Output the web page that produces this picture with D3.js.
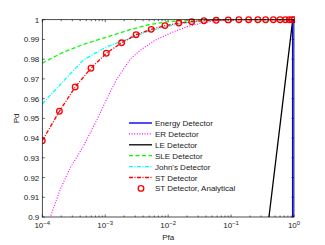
<!DOCTYPE html>
<html>
<head>
<meta charset="utf-8">
<script src="https://cdn.jsdelivr.net/npm/d3@7"></script>
<style>
	body { margin: 0; background: #fff; }
	svg text { font-family: "Liberation Sans", Arial, sans-serif; font-size: 8px; fill: #222; }
</style>
</head>
<body>
<svg id="chart" width="325" height="245"></svg>
<script>
const pfaEnergy = [0.955, 0.955, 1];
const pdEnergy = [0.85, 1, 1];

const pfaER = [1.2e-4, 1.38e-4, 1.91e-4, 2.76e-4, 4.45e-4, 7.36e-4, 1.1e-3, 1.53e-3, 2.5e-3, 3.6e-3, 6.3e-3, 0.0122, 0.0203, 0.0326, 0.063, 0.1, 1];
const pdER = [0.893, 0.901, 0.9137, 0.9248, 0.9356, 0.9492, 0.961, 0.970, 0.980, 0.9845, 0.9897, 0.9939, 0.9965, 0.9982, 0.9997, 1, 1];

const pfaLE = [0.4, 0.955, 1];
const pdLE = [0.9, 1, 1];

const pfaSLE = [1e-4, 2e-4, 3.1e-4, 5e-4, 1.06e-3, 2.5e-3, 5e-3, 1e-2, 2e-2, 0.05, 1];
const pdSLE = [0.978, 0.983, 0.9855, 0.988, 0.9912, 0.995, 0.9975, 0.999, 0.9997, 1, 1];

const pfaJohn = [1e-4, 1.9e-4, 4.5e-4, 1.06e-3, 2.5e-3, 4.6e-3, 9e-3, 0.02, 0.05, 0.1, 1];
const pdJohn = [0.9573, 0.9669, 0.9796, 0.9863, 0.9906, 0.9939, 0.9965, 0.9985, 0.9997, 1, 1];

const pfaST = [1e-4, 1.87e-4, 3.33e-4, 5.93e-4, 1.04e-3, 1.82e-3, 3.09e-3, 5.37e-3, 8.9e-3, 0.0148, 0.0237, 0.037, 0.058, 0.09, 0.133, 0.19, 0.267, 0.354, 0.47, 0.6, 0.73, 0.84, 0.93, 1];
const pdST = [0.9387, 0.9536, 0.9659, 0.9754, 0.983, 0.9883, 0.9924, 0.9951, 0.997, 0.9983, 0.999, 0.9995, 0.9997, 0.9999, 1, 1, 1, 1, 1, 1, 1, 1, 1, 1];

const xTickExps = [-4, -3, -2, -1, 0];
const yTicks = [0.9, 0.91, 0.92, 0.93, 0.94, 0.95, 0.96, 0.97, 0.98, 0.99, 1];

const legendNames = ["Energy Detector", "ER Detector", "LE Detector", "SLE Detector", "John's Detector", "ST Detector", "ST Detector, Analytical"];

const margin = { top: 19.7, right: 31, bottom: 28, left: 42.3 };
const width = 325, height = 245;

const svg = d3.select("#chart");

const x = d3.scaleLog()
	.domain([1e-4, 1])
	.range([margin.left, width - margin.right]);

const y = d3.scaleLinear()
	.domain([0.9, 1])
	.range([height - margin.bottom, margin.top]);

const [x0, x1] = x.range();
const [y0, y1] = y.range();

svg.append("defs").append("clipPath")
	.attr("id", "plot-clip")
	.append("rect")
	.attr("x", x0).attr("y", y1 - 4)
	.attr("width", x1 - x0 + 1).attr("height", y0 - y1 + 4);

// ticks, inward, on all four sides
const tickLen = 2.5;
const tickGroup = svg.append("g").attr("stroke", "#000").attr("stroke-width", 0.6);

const minorTicks = [];
for (let e = -4; e < 0; e++) {
	for (let k = 2; k <= 9; k++) minorTicks.push(k * Math.pow(10, e));
}
minorTicks.forEach(v => {
	tickGroup.append("line").attr("x1", x(v)).attr("x2", x(v)).attr("y1", y0).attr("y2", y0 - 1.5);
	tickGroup.append("line").attr("x1", x(v)).attr("x2", x(v)).attr("y1", y1).attr("y2", y1 + 1.5);
});
xTickExps.forEach(e => {
	const v = Math.pow(10, e);
	tickGroup.append("line").attr("x1", x(v)).attr("x2", x(v)).attr("y1", y0).attr("y2", y0 - tickLen);
	tickGroup.append("line").attr("x1", x(v)).attr("x2", x(v)).attr("y1", y1).attr("y2", y1 + tickLen);
});
yTicks.forEach(v => {
	tickGroup.append("line").attr("x1", x0).attr("x2", x0 + tickLen).attr("y1", y(v)).attr("y2", y(v));
	tickGroup.append("line").attr("x1", x1).attr("x2", x1 - tickLen).attr("y1", y(v)).attr("y2", y(v));
});

// tick labels
xTickExps.forEach(e => {
	const t = svg.append("text")
		.attr("x", x(Math.pow(10, e)))
		.attr("y", y0 + 11)
		.attr("text-anchor", "middle");
	t.append("tspan").text("10");
	t.append("tspan").attr("dy", -3.5).attr("font-size", "6px").text(e === 0 ? "0" : "\u2212" + Math.abs(e));
});

yTicks.forEach(v => {
	svg.append("text")
		.attr("x", x0 - 3)
		.attr("y", y(v) + 3)
		.attr("text-anchor", "end")
		.text(v === 1 ? "1" : d3.format(".2~f")(v));
});

// axis labels
svg.append("text")
	.attr("x", (x0 + x1) / 2)
	.attr("y", 240)
	.attr("text-anchor", "middle")
	.text("Pfa");

svg.append("text")
	.attr("transform", `translate(19, ${(y0 + y1) / 2}) rotate(-90)`)
	.attr("text-anchor", "middle")
	.text("Pd");

// curves
const lineGen = d3.line()
	.x(d => x(d[0]))
	.y(d => y(d[1]));

const series = [
	{ pfa: pfaER, pd: pdER, color: "#ff00ff", dash: "1,1.6", w: 1.1 },
	{ pfa: pfaSLE, pd: pdSLE, color: "#00ff00", dash: "4,2.5", w: 1.3 },
	{ pfa: pfaJohn, pd: pdJohn, color: "#00ffff", dash: "4,1.5,1,1.5", w: 1.3 },
	{ pfa: pfaST, pd: pdST, color: "#ff0000", dash: "4,1.5,1,1.5", w: 1.3 },
	{ pfa: pfaLE, pd: pdLE, color: "#000000", dash: null, w: 1.3 },
	{ pfa: pfaEnergy, pd: pdEnergy, color: "#0000ff", dash: null, w: 1.6 }
];

const lineGroup = svg.append("g").attr("clip-path", "url(#plot-clip)");
series.forEach(s => {
	lineGroup.append("path")
		.datum(d3.zip(s.pfa, s.pd))
		.attr("fill", "none")
		.attr("stroke", s.color)
		.attr("stroke-width", s.w)
		.attr("stroke-dasharray", s.dash)
		.attr("d", lineGen);
});

lineGroup.selectAll("circle.st")
	.data(d3.zip(pfaST, pdST))
	.join("circle")
	.attr("class", "st")
	.attr("cx", d => x(d[0]))
	.attr("cy", d => y(d[1]))
	.attr("r", 2.8)
	.attr("fill", "none")
	.attr("stroke", "#ff0000")
	.attr("stroke-width", 1.3);

// box
svg.append("rect")
	.attr("x", x0).attr("y", y1)
	.attr("width", x1 - x0).attr("height", y0 - y1)
	.attr("fill", "none")
	.attr("stroke", "#000")
	.attr("stroke-width", 0.7);

// legend
const legendStyles = [
	{ color: "#0000ff", dash: null, w: 1.4 },
	{ color: "#ff00ff", dash: "1,1.6", w: 1.1 },
	{ color: "#000000", dash: null, w: 1.3 },
	{ color: "#00ff00", dash: "4,2.5", w: 1.3 },
	{ color: "#00ffff", dash: "4,1.5,1,1.5", w: 1.3 },
	{ color: "#ff0000", dash: "4,1.5,1,1.5", w: 1.3 },
	{ color: "#ff0000", dash: null, w: 0, marker: true }
];

const legend = svg.append("g").attr("class", "legend");
legendNames.forEach((name, i) => {
	const ly = 123 + i * 10.9;
	const st = legendStyles[i];
	if (st.marker) {
		legend.append("circle")
			.attr("cx", 141).attr("cy", ly)
			.attr("r", 2.8)
			.attr("fill", "none")
			.attr("stroke", st.color)
			.attr("stroke-width", 1.3);
	} else {
		legend.append("line")
			.attr("x1", 129).attr("x2", 152)
			.attr("y1", ly).attr("y2", ly)
			.attr("stroke", st.color)
			.attr("stroke-width", st.w)
			.attr("stroke-dasharray", st.dash);
	}
	legend.append("text")
		.attr("x", 155)
		.attr("y", ly + 3)
		.text(name);
});
</script>
</body>
</html>
